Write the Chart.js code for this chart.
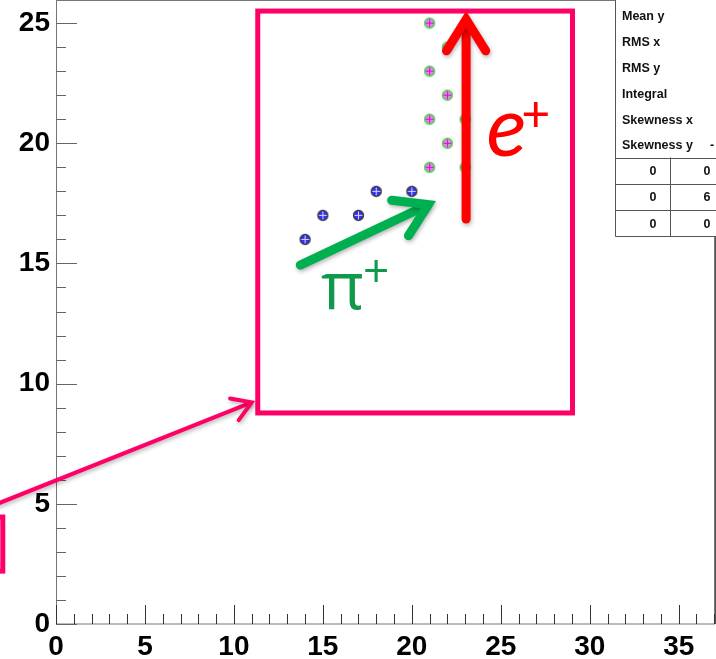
<!DOCTYPE html>
<html>
<head>
<meta charset="utf-8">
<script src="https://cdn.jsdelivr.net/npm/chart.js@4.4.1/dist/chart.umd.min.js"></script>
<style>
  html, body { margin: 0; padding: 0; background: #fff; }
  canvas { display: block; }
</style>
</head>
<body>
<canvas id="chart" width="716" height="659"></canvas>
<script>
// pi+ candidate hits (blue markers)
const pionX = [14, 15, 17, 18, 20];
const pionY = [16, 17, 17, 18, 18];
// e+ candidate hits (green markers)
const positronX = [21, 22, 21, 22, 21, 23, 22, 21, 23];
const positronY = [25, 24, 23, 22, 21, 21, 20, 19, 19];

// axis tick labels
const xTicks = [0, 5, 10, 15, 20, 25, 30, 35];
const yTicks = [0, 5, 10, 15, 20, 25];

// stats box text
const statLabels = ['Mean y', 'RMS x', 'RMS y', 'Integral', 'Skewness x', 'Skewness y'];
const statValues = ['', '', '', '', '', '-'];
const cellRows = [['0', '0'], ['0', '6'], ['0', '0']];

const PINK = '#FF0066';
const RED = '#FF0000';
const GREEN = '#00B050';

// circle-with-cross marker, like the ROOT style
function makeMarker(ring, fill, cross) {
    const c = document.createElement('canvas');
    c.width = 13; c.height = 13;
    const g = c.getContext('2d');
    g.beginPath();
    g.arc(6.5, 6.5, 4.8, 0, Math.PI * 2);
    g.fillStyle = fill;
    g.fill();
    g.lineWidth = 1.7;
    g.strokeStyle = ring;
    g.stroke();
    g.strokeStyle = cross;
    g.lineWidth = 1;
    g.beginPath();
    g.moveTo(6.5, 2.5); g.lineTo(6.5, 10.5);
    g.moveTo(2.5, 6.5); g.lineTo(10.5, 6.5);
    g.stroke();
    return c;
}

const blueMarker = makeMarker('#3a3a48', '#3030ff', '#d8d8ff');
const greenMarker = makeMarker('#4ad84a', '#f07af0', '#c020c0');

function toPoints(xs, ys) {
    return xs.map((x, i) => ({ x: x, y: ys[i] }));
}

// draws an arrow between two pixel positions, head size in pixels
function drawArrow(ctx, x1, y1, x2, y2, color, width, headLen) {
    const ang = Math.atan2(y2 - y1, x2 - x1);
    const spread = 0.56;
    ctx.save();
    ctx.strokeStyle = color;
    ctx.lineWidth = width;
    ctx.lineCap = 'round';
    ctx.lineJoin = 'miter';
    ctx.shadowColor = 'rgba(0,0,0,0.3)';
    ctx.shadowBlur = 4;
    ctx.shadowOffsetX = 1;
    ctx.shadowOffsetY = 2;
    ctx.beginPath();
    ctx.moveTo(x1, y1);
    ctx.lineTo(x2 - Math.cos(ang) * width * 0.5, y2 - Math.sin(ang) * width * 0.5);
    ctx.stroke();
    ctx.beginPath();
    ctx.moveTo(x2 - headLen * Math.cos(ang - spread), y2 - headLen * Math.sin(ang - spread));
    ctx.lineTo(x2, y2);
    ctx.lineTo(x2 - headLen * Math.cos(ang + spread), y2 - headLen * Math.sin(ang + spread));
    ctx.stroke();
    ctx.restore();
}

// frame and inward ticks (ROOT look)
const framePlugin = {
    id: 'frame',
    beforeDatasetsDraw(chart) {
        const ctx = chart.ctx;
        const a = chart.chartArea;
        const xs = chart.scales.x, ys = chart.scales.y;
        ctx.save();
        ctx.strokeStyle = '#777';
        ctx.lineWidth = 1;
        ctx.strokeRect(Math.round(a.left) + 0.5, 0.5, Math.round(a.right - a.left) - 1, Math.round(a.bottom) - 0.5);
        ctx.strokeStyle = '#333';
        ctx.beginPath();
        for (let v = 0; v <= 37; v++) {
            const px = Math.round(xs.getPixelForValue(v)) + 0.5;
            const len = v % 5 === 0 ? 19 : 10;
            ctx.moveTo(px, a.bottom);
            ctx.lineTo(px, a.bottom - len);
        }
        ctx.stroke();
        ctx.strokeStyle = '#666';
        ctx.beginPath();
        for (let v = 0; v <= 25; v++) {
            const py = Math.round(ys.getPixelForValue(v)) + 0.5;
            const len = v % 5 === 0 ? 21 : 10;
            ctx.moveTo(a.left, py);
            ctx.lineTo(a.left + len, py);
        }
        ctx.stroke();
        ctx.restore();
    }
};

// annotations: boxes, arrows, labels, stats box
const overlayPlugin = {
    id: 'overlay',
    afterDraw(chart) {
        const ctx = chart.ctx;
        const xs = chart.scales.x, ys = chart.scales.y;
        const X = v => xs.getPixelForValue(v);
        const Y = v => ys.getPixelForValue(v);

        ctx.save();
        // zoom box
        ctx.strokeStyle = PINK;
        ctx.lineWidth = 5;
        ctx.strokeRect(X(11.34), Y(25.5), X(29.03) - X(11.34), Y(8.78) - Y(25.5));
        // edge of the box off to the left
        ctx.strokeRect(X(-8), Y(4.45), X(-2.99) - X(-8), Y(2.2) - Y(4.45));
        ctx.restore();

        drawArrow(ctx, X(-3.3), Y(5.0), X(11.0), Y(9.22), PINK, 4, 22);
        drawArrow(ctx, X(13.73), Y(14.93), X(20.93), Y(17.45), GREEN, 9, 37);
        drawArrow(ctx, X(23.05), Y(16.85), X(23.05), Y(25.15), RED, 9, 37);

        ctx.save();
        ctx.textBaseline = 'alphabetic';
        ctx.textAlign = 'left';
        ctx.fillStyle = RED;
        ctx.font = 'italic 84px Lato';
        ctx.fillText('e', X(24.2), Y(19.45));
        ctx.font = '50px Lato';
        ctx.textBaseline = 'middle';
        ctx.fillText('+', X(26.15), Y(21.2));

        ctx.fillStyle = '#0E9A4A';
        ctx.textBaseline = 'alphabetic';
        ctx.font = '66px "Open Sans"';
        ctx.fillText('\u03c0', X(14.9), Y(13.1));
        ctx.font = '46px "Open Sans"';
        ctx.textBaseline = 'middle';
        ctx.fillText('+', X(17.25), Y(14.55));
        ctx.restore();

        // stats box
        ctx.save();
        const bx = 615.5, by = 236.5;
        ctx.fillStyle = '#fff';
        ctx.fillRect(bx, -2, 720 - bx, by + 2);
        ctx.strokeStyle = '#555';
        ctx.lineWidth = 1;
        ctx.beginPath();
        ctx.moveTo(bx, -2); ctx.lineTo(bx, by); ctx.lineTo(716, by);
        ctx.moveTo(715.5, by); ctx.lineTo(715.5, chart.chartArea.bottom);
        ctx.stroke();
        ctx.fillStyle = '#111';
        ctx.font = 'bold 12.5px "Liberation Sans"';
        ctx.textBaseline = 'middle';
        statLabels.forEach((t, i) => {
            const cy = 17 + i * 25.8;
            ctx.textAlign = 'left';
            ctx.fillText(t, 622, cy);
            if (statValues[i]) ctx.fillText(statValues[i], 710, cy);
        });
        const rowTop = 157.5, rowH = 26.3;
        ctx.beginPath();
        for (let r = 0; r < cellRows.length; r++) {
            const y = Math.round(rowTop + r * rowH) + 0.5;
            ctx.moveTo(bx, y); ctx.lineTo(716, y);
        }
        ctx.moveTo(670.5, rowTop); ctx.lineTo(670.5, by);
        ctx.stroke();
        ctx.textAlign = 'center';
        cellRows.forEach((row, r) => {
            const cy = rowTop + r * rowH + rowH / 2 + 1;
            ctx.fillText(row[0], 653, cy);
            ctx.fillText(row[1], 707, cy);
        });
        ctx.restore();
    }
};

const tickFont = { family: '"Liberation Sans", Arial, sans-serif', weight: 'bold', size: 28 };

function noPad(s) {
    s.paddingTop = 0;
    s.paddingBottom = 0;
    s.paddingLeft = 0;
    s.paddingRight = 0;
}

new Chart(document.getElementById('chart').getContext('2d'), {
    type: 'scatter',
    data: {
        datasets: [{
            label: 'pi+',
            data: toPoints(pionX, pionY),
            pointStyle: blueMarker,
            pointRadius: 6
        }, {
            label: 'e+',
            data: toPoints(positronX, positronY),
            pointStyle: greenMarker,
            pointRadius: 6
        }]
    },
    options: {
        responsive: false,
        animation: false,
        devicePixelRatio: 1,
        layout: { autoPadding: false, padding: { left: 0, right: 1, top: 0, bottom: 0 } },
        plugins: {
            legend: { display: false },
            tooltip: { enabled: false }
        },
        scales: {
            x: {
                type: 'linear',
                min: 0,
                max: 37.04,
                afterBuildTicks: s => { s.ticks = xTicks.map(v => ({ value: v })); },
                afterFit: s => { s.height = 35; noPad(s); },
                grid: { display: false, drawTicks: false },
                border: { display: false },
                ticks: { font: tickFont, color: '#000', padding: 6, maxRotation: 0, autoSkip: false }
            },
            y: {
                type: 'linear',
                min: 0,
                max: 25.96,
                afterBuildTicks: s => { s.ticks = yTicks.map(v => ({ value: v })); },
                afterFit: s => { s.width = 56; noPad(s); },
                grid: { display: false, drawTicks: false },
                border: { display: false },
                ticks: { font: tickFont, color: '#000', padding: 6, autoSkip: false }
            }
        }
    },
    plugins: [framePlugin, overlayPlugin]
});
</script>
</body>
</html>
